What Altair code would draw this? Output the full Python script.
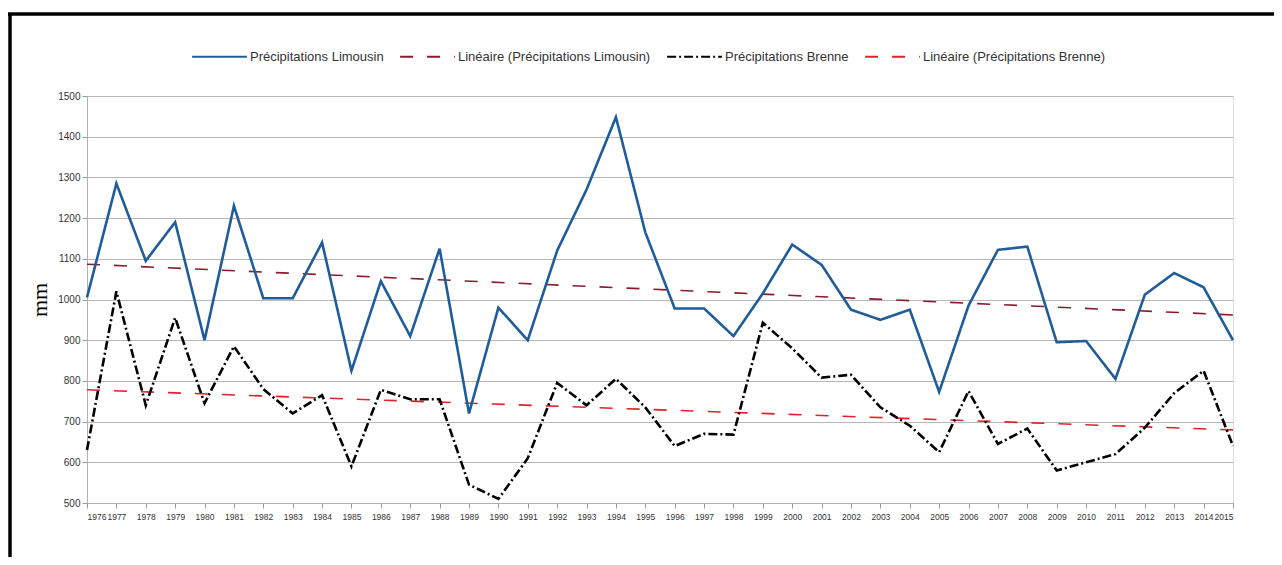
import altair as alt
import pandas as pd

years = list(range(1976, 2016))

limousin = [1005, 1285, 1095, 1190, 900, 1230, 1003, 1003, 1140, 825,
            1045, 910, 1125, 720, 980, 900, 1120, 1270, 1448, 1165,
            978, 978, 910, 1015, 1135, 1085, 975, 950, 975, 773,
            985, 1122, 1130, 895, 898, 805, 1012, 1065, 1030, 900]

brenne = [630, 1020, 740, 955, 745, 885, 780, 720, 765, 590,
          778, 755, 755, 545, 510, 610, 795, 740, 805, 735,
          640, 670, 668, 943, 880, 808, 815, 735, 690, 625,
          775, 645, 683, 580, 600, 620, 685, 770, 825, 640]

series_names = ["Précipitations Limousin", "Linéaire (Précipitations Limousin)",
                "Précipitations Brenne", "Linéaire (Précipitations Brenne)"]
series_colors = ["#1f5c99", "#8b1c2c", "#000000", "#e3202b"]
series_dashes = [[1, 0], [13, 14], [9, 3, 2, 3], [13, 14]]

y_ticks = list(range(500, 1501, 100))

df = pd.DataFrame({
    "year": years * 2,
    "value": limousin + brenne,
    "serie": [series_names[0]] * len(years) + [series_names[2]] * len(years),
})

color = alt.Color("serie:N",
                  scale=alt.Scale(domain=series_names, range=series_colors),
                  legend=alt.Legend(title=None, orient="none", legendX=104, legendY=-68,
                                    direction="horizontal", symbolType="stroke",
                                    symbolSize=3000, symbolStrokeWidth=2,
                                    labelFontSize=13, labelFont="Liberation Sans",
                                    labelColor="#333333", labelOffset=2,
                                    columnPadding=12, labelLimit=400))
dash = alt.StrokeDash("serie:N",
                      scale=alt.Scale(domain=series_names, range=series_dashes),
                      legend=None)

x = alt.X("year:Q", title=None,
          scale=alt.Scale(domain=[1976, 2015], nice=False, zero=False),
          axis=alt.Axis(values=years, format="d", labelFontSize=8.5, labelColor="#333333",
                        labelFont="Liberation Sans", labelOverlap=False, grid=False,
                        domainColor="#b0b0b0", tickColor="#999999", tickSize=5,
                        labelPadding=4))
y = alt.Y("value:Q", title="mm",
          scale=alt.Scale(domain=[500, 1500], nice=False, zero=False),
          axis=alt.Axis(values=y_ticks, format="d", labelFontSize=10, labelColor="#333333",
                        labelFont="Liberation Sans", gridColor="#b8b8b8", domainColor="#b0b0b0",
                        tickColor="#999999", tickSize=5, titleFont="Liberation Serif",
                        titleFontSize=22, titleFontWeight="normal", titleColor="#000000",
                        titlePadding=6))

base = alt.Chart(df)

lines = base.mark_line(strokeWidth=2.6).encode(x=x, y=y, color=color, strokeDash=dash)

trends = base.transform_regression(
    "year", "value", groupby=["serie"]
).transform_calculate(
    serie='"Linéaire (" + datum.serie + ")"'
).mark_line(strokeWidth=1.6).encode(x=x, y=y, color=color, strokeDash=dash)

frame_df = pd.DataFrame({"k": [0]})
frame_top = alt.Chart(frame_df).mark_rule(color="#000000", strokeWidth=3.5).encode(
    x=alt.value(-79), x2=alt.value(1300), y=alt.value(-82))
frame_left = alt.Chart(frame_df).mark_rule(color="#000000", strokeWidth=3.5).encode(
    x=alt.value(-77), y=alt.value(-83), y2=alt.value(480))

chart = alt.layer(trends, lines, frame_top, frame_left).properties(
    width=1146, height=407,
    autosize=alt.AutoSizeParams(type="none"),
    padding={"left": 79, "top": 88, "right": 41, "bottom": 54},
).configure_view(stroke="#d0d0d0", strokeWidth=1).configure(background="white")

chart.save("out.html", embed_options={"renderer": "svg", "actions": False})
